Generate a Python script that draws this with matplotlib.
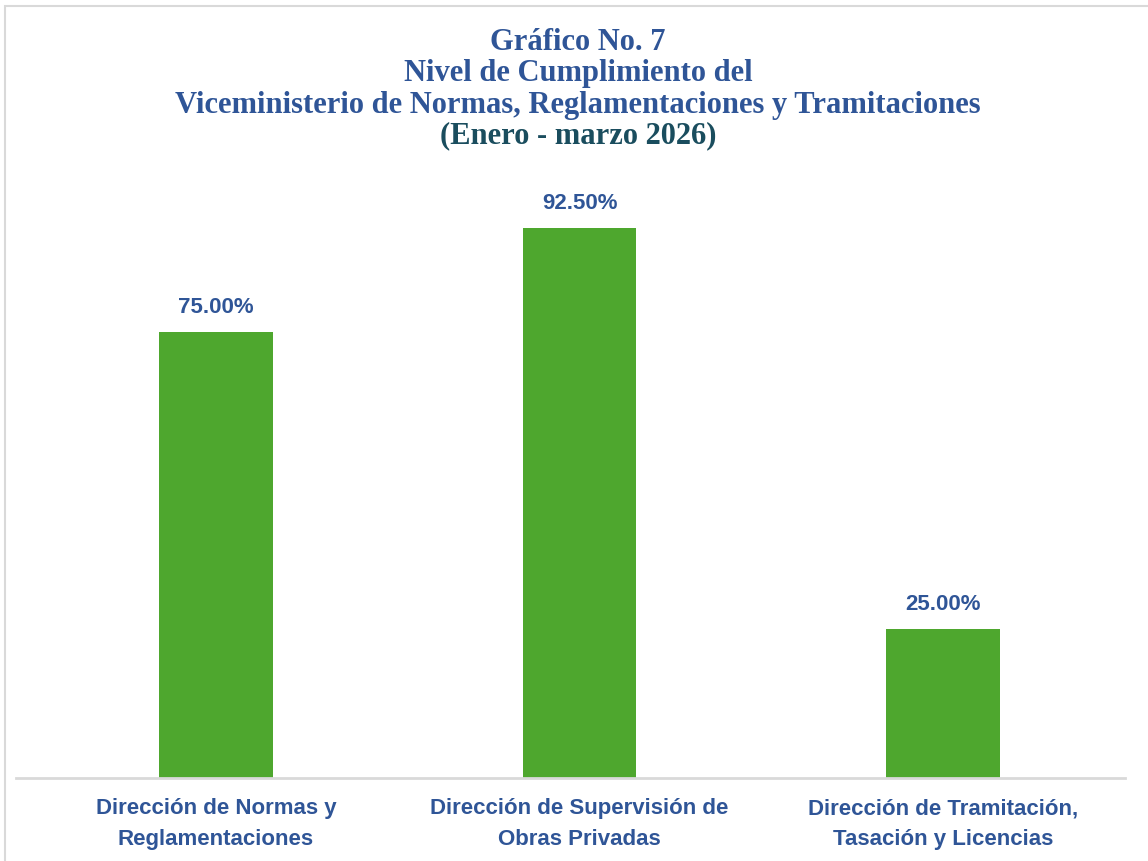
import matplotlib
matplotlib.use("Agg")
import matplotlib.pyplot as plt
from matplotlib.patches import Rectangle

categories = ["Dirección de Normas y\nReglamentaciones",
              "Dirección de Supervisión de\nObras Privadas",
              "Dirección de Tramitación,\nTasación y Licencias"]
values = [75.00, 92.50, 25.00]
value_labels = ["75.00%", "92.50%", "25.00%"]

title_lines = ["Gráfico No. 7",
               "Nivel de Cumplimiento del",
               "Viceministerio de Normas, Reglamentaciones y Tramitaciones"]
title_last = "(Enero - marzo 2026)"

BLUE = "#2F5597"
TEAL = "#1A4D5E"
GREEN = "#4EA72E"

W, H = 1148, 861
fig = plt.figure(figsize=(W / 100, H / 100), dpi=100)
fig.patch.set_facecolor("white")

# outer border (chart area frame)
fig.patches.append(Rectangle((5 / W, -0.01), 1.2, (H - 6) / H + 0.01, transform=fig.transFigure,
                             fill=False, edgecolor="#D9D9D9", linewidth=1.5))

ax_left, ax_right = 16 / W, 1125 / W
ax_bottom = 1 - 778 / H
ax_top = 1 - (778 - 594.7) / H
ax = fig.add_axes([ax_left, ax_bottom, ax_right - ax_left, ax_top - ax_bottom])

x = range(len(categories))
bars = ax.bar(x, values, width=0.312, color=GREEN, zorder=2)
ax.set_xlim(-0.55, 2.5)
ax.set_ylim(0, 100)

for b, lab in zip(bars, value_labels):
    ax.annotate(lab, (b.get_x() + b.get_width() / 2, b.get_height()),
                xytext=(0, 10), textcoords="offset points", ha="center", va="bottom",
                fontsize=16, fontweight="bold", color=BLUE, family="Liberation Sans")

for s in ["top", "right", "left"]:
    ax.spines[s].set_visible(False)
ax.spines["bottom"].set_color("#D9D9D9")
ax.spines["bottom"].set_linewidth(2)
ax.set_yticks([])
ax.set_xticks(list(x))
ax.set_xticklabels(categories, fontsize=16, fontweight="bold", color=BLUE,
                   family="Liberation Sans", linespacing=1.6)
ax.tick_params(axis="x", length=0, pad=14.5)

ys = [43, 74, 105]
for t, y in zip(title_lines, ys):
    fig.text(578 / W, 1 - y / H, t, ha="center", va="center", fontsize=22,
             fontweight="bold", color=BLUE, family="Liberation Serif")
fig.text(578 / W, 1 - 136 / H, title_last, ha="center", va="center", fontsize=22,
         fontweight="bold", color=TEAL, family="Liberation Serif")

fig.savefig("out.png", dpi=100, facecolor="white")
